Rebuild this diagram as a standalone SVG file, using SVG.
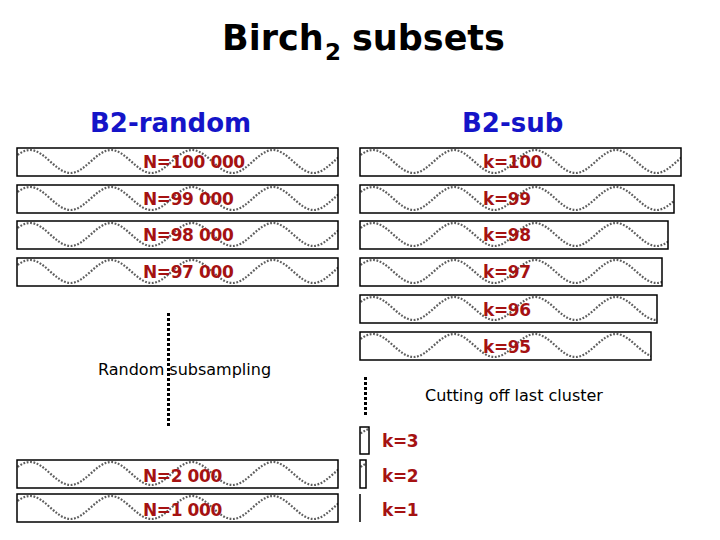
<svg xmlns="http://www.w3.org/2000/svg" xmlns:xlink="http://www.w3.org/1999/xlink" width="720" height="540" viewBox="0 0 720 540">
<style>
.title{font-family:"DejaVu Sans",Verdana,sans-serif;font-weight:bold;fill:#000}
.head{font-family:"DejaVu Sans",Verdana,sans-serif;font-weight:bold;font-size:26px;fill:#1414c8}
.lbl{font-family:"DejaVu Sans",Verdana,sans-serif;font-weight:bold;font-size:17px;letter-spacing:-0.4px;fill:#a51212}
.note{font-family:"DejaVu Sans",Verdana,sans-serif;font-size:16px;fill:#000}
.box{fill:none;stroke:#000;stroke-width:1.5}
.wave{fill:none;stroke:#5e5e5e;stroke-width:2.2;stroke-dasharray:1.8 1.6}
.dots{stroke:#000;stroke-width:3;stroke-dasharray:3 2}
</style>
<defs>
<path id="wave" class="wave" d="M-27.5,11.5 C-12.78,11.5 -1.72,-11.5 13,-11.5 S38.78,11.5 53.5,11.5 S79.28,-11.5 94,-11.5 S119.78,11.5 134.5,11.5 S160.28,-11.5 175,-11.5 S200.78,11.5 215.5,11.5 S241.28,-11.5 256,-11.5 S281.78,11.5 296.5,11.5 S322.28,-11.5 337,-11.5 S362.78,11.5 377.5,11.5"/>
</defs>
<rect width="720" height="540" fill="#fff"/>

<g id="title">
<text class="title" y="50"><tspan x="222" font-size="35">Birch</tspan><tspan x="325" y="60" font-size="23">2</tspan><tspan x="352" y="50" font-size="35">subsets</tspan></text>
</g>
<g id="head-random"><text class="head" x="90" y="132">B2-random</text></g>
<g id="head-sub"><text class="head" x="462" y="132">B2-sub</text></g>

<g id="r100000">
<svg x="17" y="148" width="321" height="28"><use xlink:href="#wave" y="13.5"/></svg>
<rect class="box" x="17" y="148" width="321" height="28"/>
<text class="lbl" x="143" y="168">N=100 000</text>
</g>
<g id="r99000">
<svg x="17" y="185" width="321" height="28"><use xlink:href="#wave" y="13.5"/></svg>
<rect class="box" x="17" y="185" width="321" height="28"/>
<text class="lbl" x="143" y="205">N=99 000</text>
</g>
<g id="r98000">
<svg x="17" y="221" width="321" height="28"><use xlink:href="#wave" y="13.5"/></svg>
<rect class="box" x="17" y="221" width="321" height="28"/>
<text class="lbl" x="143" y="241">N=98 000</text>
</g>
<g id="r97000">
<svg x="17" y="258" width="321" height="28"><use xlink:href="#wave" y="13.5"/></svg>
<rect class="box" x="17" y="258" width="321" height="28"/>
<text class="lbl" x="143" y="278">N=97 000</text>
</g>
<g id="r2000">
<svg x="17" y="460" width="321" height="28"><use xlink:href="#wave" y="13.5"/></svg>
<rect class="box" x="17" y="460" width="321" height="28"/>
<text class="lbl" x="143" y="482">N=2 000</text>
</g>
<g id="r1000">
<svg x="17" y="494" width="321" height="28"><use xlink:href="#wave" y="13.5"/></svg>
<rect class="box" x="17" y="494" width="321" height="28"/>
<text class="lbl" x="143" y="516">N=1 000</text>
</g>

<g id="k100">
<svg x="360" y="148" width="321" height="28"><use xlink:href="#wave" y="13.5"/></svg>
<rect class="box" x="360" y="148" width="321" height="28"/>
<text class="lbl" x="483" y="168">k=100</text>
</g>
<g id="k99">
<svg x="360" y="185" width="314" height="28"><use xlink:href="#wave" y="13.5"/></svg>
<rect class="box" x="360" y="185" width="314" height="28"/>
<text class="lbl" x="483" y="205">k=99</text>
</g>
<g id="k98">
<svg x="360" y="221" width="308" height="28"><use xlink:href="#wave" y="13.5"/></svg>
<rect class="box" x="360" y="221" width="308" height="28"/>
<text class="lbl" x="483" y="241">k=98</text>
</g>
<g id="k97">
<svg x="360" y="258" width="302" height="28"><use xlink:href="#wave" y="13.5"/></svg>
<rect class="box" x="360" y="258" width="302" height="28"/>
<text class="lbl" x="483" y="278">k=97</text>
</g>
<g id="k96">
<svg x="360" y="295" width="297" height="28"><use xlink:href="#wave" y="13.5"/></svg>
<rect class="box" x="360" y="295" width="297" height="28"/>
<text class="lbl" x="483" y="316">k=96</text>
</g>
<g id="k95">
<svg x="360" y="332" width="291" height="28"><use xlink:href="#wave" y="13.5"/></svg>
<rect class="box" x="360" y="332" width="291" height="28"/>
<text class="lbl" x="483" y="353">k=95</text>
</g>
<g id="k3">
<svg x="360" y="427" width="9" height="27"><use xlink:href="#wave" y="13"/></svg>
<rect class="box" x="360" y="427" width="9" height="27"/>
<text class="lbl" x="382" y="447">k=3</text>
</g>
<g id="k2">
<svg x="360" y="460" width="6" height="28"><use xlink:href="#wave" y="13.5"/></svg>
<rect class="box" x="360" y="460" width="6" height="28"/>
<text class="lbl" x="382" y="482">k=2</text>
</g>
<g id="k1">
<line x1="360" y1="494" x2="360" y2="522" stroke="#000" stroke-width="1.5"/>
<text class="lbl" x="382" y="516">k=1</text>
</g>

<g id="connectors">
<line class="dots" x1="168.5" y1="313" x2="168.5" y2="426"/>
<line class="dots" x1="365.5" y1="377" x2="365.5" y2="417"/>
</g>

<g id="note-random"><text class="note" x="98" y="375">Random subsampling</text></g>
<g id="note-sub"><text class="note" x="425" y="401">Cutting off last cluster</text></g>
</svg>
